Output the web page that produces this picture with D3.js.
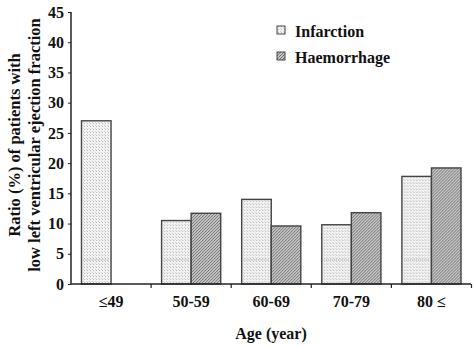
<!DOCTYPE html>
<html><head><meta charset="utf-8">
<script src="https://cdn.jsdelivr.net/npm/d3@7"></script>
<style>
html,body{margin:0;padding:0;background:#fff;}
svg{display:block;font-family:"Liberation Serif","Times New Roman",serif;font-weight:bold;}
</style></head>
<body>
<svg id="c" width="476" height="346"></svg>
<script>
const categories = ["≤49", "50-59", "60-69", "70-79", "80 ≤"];
const seriesNames = ["Infarction", "Haemorrhage"];
const infarction = [27.0, 10.5, 14.0, 9.8, 17.8];
const haemorrhage = [0, 11.7, 9.6, 11.8, 19.2];
const yTicks = [0, 5, 10, 15, 20, 25, 30, 35, 40, 45];
const yTitle = ["Ratio (%) of patients with", "low left ventricular ejection fraction"];
const xTitle = "Age (year)";

const svg = d3.select("#c");
const m = {left: 71, right: 5, top: 12, bottom: 62};
const W = 476, H = 346;
const x = d3.scaleBand().domain(categories).range([m.left, W - m.right + 0.5]).paddingInner(0).paddingOuter(0);
const y = d3.scaleLinear().domain([0, 45]).range([H - m.bottom, m.top]);
const xs = d3.scaleBand().domain(seriesNames).range([0, x.bandwidth()]).paddingInner(0).paddingOuter(0.355);

const defs = svg.append("defs");
const p1 = defs.append("pattern").attr("id", "dots").attr("patternUnits", "userSpaceOnUse").attr("width", 3).attr("height", 3);
p1.append("rect").attr("width", 3).attr("height", 3).attr("fill", "#f2f2f2");
p1.append("rect").attr("x", 1).attr("y", 0).attr("width", 1).attr("height", 1).attr("fill", "#b8b8b8");
p1.append("rect").attr("x", 0).attr("y", 2).attr("width", 1).attr("height", 1).attr("fill", "#cfcfcf");
const p2 = defs.append("pattern").attr("id", "hatch").attr("patternUnits", "userSpaceOnUse").attr("width", 3).attr("height", 3);
p2.append("rect").attr("width", 3).attr("height", 3).attr("fill", "#c4c4c4");
p2.append("rect").attr("x", 0).attr("y", 0).attr("width", 1).attr("height", 1).attr("fill", "#6e6e6e");
p2.append("rect").attr("x", 2).attr("y", 1).attr("width", 1).attr("height", 1).attr("fill", "#7a7a7a");
p2.append("rect").attr("x", 1).attr("y", 2).attr("width", 1).attr("height", 1).attr("fill", "#7a7a7a");
const fills = {"Infarction": "url(#dots)", "Haemorrhage": "url(#hatch)"};

const data = categories.map((c, i) => ({c, vals: [
  {s: "Infarction", v: infarction[i]}, {s: "Haemorrhage", v: haemorrhage[i]}]}));

const g = svg.append("g");
const groups = g.selectAll("g.cat").data(data).join("g").attr("transform", d => `translate(${x(d.c)},0)`);
groups.selectAll("rect").data(d => d.vals.filter(v => v.v > 0)).join("rect")
  .attr("x", d => xs(d.s)).attr("y", d => y(d.v))
  .attr("width", xs.bandwidth()).attr("height", d => y(0) - y(d.v))
  .attr("fill", d => fills[d.s]).attr("stroke", "#444").attr("stroke-width", 1.4);
// faint dotted line inside bars
groups.selectAll("line.dl").data(d => d.vals.filter(v => v.v > 4)).join("line")
  .attr("x1", d => xs(d.s) + 2).attr("x2", d => xs(d.s) + xs.bandwidth() - 2)
  .attr("y1", y(4)).attr("y2", y(4))
  .attr("stroke", "#aaa").attr("stroke-dasharray", "1,1").attr("stroke-width", 1);

// axes
const yAxis = d3.axisLeft(y).tickValues(yTicks).tickSize(3).tickPadding(4);
const ya = svg.append("g").attr("transform", `translate(${m.left},0)`).call(yAxis);
ya.select(".domain").attr("stroke", "#222").attr("stroke-width", 1.5).attr("d", `M0,${y(45)}V${y(0)}`);
ya.selectAll(".tick line").attr("stroke", "#222");
ya.selectAll("text").attr("font-size", 16).attr("fill", "#111").attr("font-family", "Liberation Serif").attr("font-weight", "bold");

const xAxis = d3.axisBottom(x).tickSize(0).tickPadding(12);
const xa = svg.append("g").attr("transform", `translate(0,${y(0)})`).call(xAxis);
xa.select(".domain").attr("stroke", "#222").attr("stroke-width", 1.5).attr("d", `M${m.left},0H${W - m.right}`);
xa.selectAll("text").attr("font-size", 16).attr("fill", "#111").attr("font-family", "Liberation Serif").attr("font-weight", "bold");
// boundary ticks
const bounds = categories.map(c => x(c)).concat([x(categories[categories.length - 1]) + x.bandwidth()]);
svg.append("g").selectAll("line").data(bounds.slice(1)).join("line")
  .attr("x1", d => d).attr("x2", d => d).attr("y1", y(0)).attr("y2", y(0) + 4)
  .attr("stroke", "#222").attr("stroke-width", 1.2);

// titles
svg.append("text").attr("x", (m.left + W - m.right) / 2).attr("y", 339).attr("text-anchor", "middle")
  .attr("font-size", 16).attr("fill", "#111").text(xTitle);
const yt = svg.append("text").attr("transform", `translate(0,145) rotate(-90)`)
  .attr("text-anchor", "middle").attr("font-size", 16.5).attr("fill", "#111");
yt.selectAll("tspan").data(yTitle).join("tspan").attr("x", 0).attr("y", (d, i) => 20 + i * 20).text(d => d);

// legend
const lg = svg.append("g").attr("transform", "translate(277,26)");
const li = lg.selectAll("g").data(seriesNames).join("g").attr("transform", (d, i) => `translate(0,${i * 26})`);
li.append("rect").attr("width", 8).attr("height", 8).attr("fill", d => fills[d]).attr("stroke", "#444").attr("stroke-width", 1);
li.append("text").attr("x", 18).attr("y", 11).attr("font-size", 16).attr("fill", "#111").text(d => d);
</script>
</body></html>
